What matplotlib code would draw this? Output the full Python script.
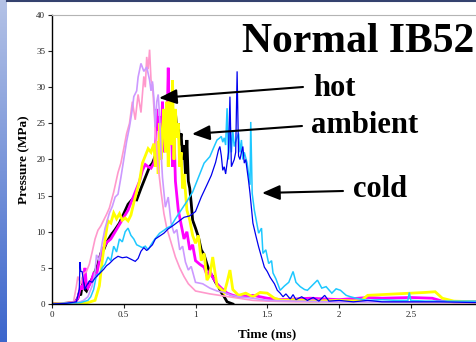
import numpy as np
import matplotlib
matplotlib.use('Agg')
import matplotlib.pyplot as plt
from matplotlib.lines import Line2D

plt.rcParams['font.family'] = ['Liberation Serif', 'DejaVu Serif']

# (time ms, pressure MPa)
pink = [(0, 0), (0.1, 0.1), (0.15, 0.3), (0.17, 2.5), (0.18, 3.8), (0.2, 2.8), (0.22, 4.2),
        (0.24, 4.5), (0.26, 5.5), (0.28, 7.2), (0.3, 9), (0.32, 10.2), (0.34, 10.8), (0.36, 11.6),
        (0.38, 12.4), (0.4, 13.3), (0.43, 15.5), (0.46, 18.2), (0.48, 19.5), (0.5, 21.5),
        (0.52, 23.6), (0.54, 25), (0.56, 28), (0.58, 25.5), (0.6, 29), (0.62, 26.5), (0.64, 31.5),
        (0.65, 30), (0.66, 34.2), (0.67, 32.5), (0.68, 35.2), (0.69, 31), (0.7, 30.4), (0.72, 24),
        (0.74, 19), (0.76, 15.5), (0.78, 12.5), (0.8, 10.5), (0.83, 8.5), (0.86, 6.5), (0.89, 5),
        (0.92, 3.8), (0.95, 2.8), (1.0, 1.8), (1.1, 1.4), (1.2, 1.1), (1.3, 0.8), (1.4, 0.5),
        (1.5, 0.4), (1.7, 0.3), (2.0, 0.3), (2.3, 0.3), (2.6, 0.2), (2.95, 0.2)]

lavender = [(0, 0), (0.1, 0.1), (0.18, 0.2), (0.22, 0.5), (0.25, 1.0), (0.28, 2.5), (0.3, 4.5),
            (0.31, 6.8), (0.33, 6.0), (0.35, 8.5), (0.37, 10.5), (0.4, 12.6), (0.42, 13.5),
            (0.44, 14.8), (0.46, 15.2), (0.48, 17.5), (0.5, 20), (0.52, 22.5), (0.54, 24.5),
            (0.56, 27), (0.57, 28.7), (0.59, 29.5), (0.6, 31.4), (0.62, 33.3), (0.64, 32.2),
            (0.66, 32.8), (0.68, 31.0), (0.69, 29.5), (0.7, 30.8), (0.71, 28.5), (0.72, 24.5),
            (0.73, 28), (0.74, 29), (0.75, 26), (0.76, 21), (0.77, 17.5), (0.79, 13.4), (0.81, 14.8),
            (0.83, 11.2), (0.85, 9.8), (0.87, 10.3), (0.89, 7.5), (0.91, 8), (0.93, 5.8), (0.95, 4.7),
            (0.97, 5.2), (1.0, 3.0), (1.05, 2.8), (1.1, 2.2), (1.15, 1.8), (1.2, 1.6), (1.25, 1.2),
            (1.3, 1.0), (1.4, 0.8), (1.5, 0.5), (1.7, 0.4), (2.0, 0.3), (2.4, 0.3), (2.95, 0.3)]

magenta = [(0, 0), (0.1, 0.1), (0.16, 0.2), (0.18, 0.8), (0.2, 2.5), (0.21, 2.0), (0.22, 3.5),
           (0.23, 5.0), (0.24, 2.5), (0.25, 2.2), (0.27, 3.0), (0.29, 4.2), (0.31, 4.0), (0.33, 6.0),
           (0.35, 7.5), (0.38, 8.5), (0.41, 9.0), (0.44, 10), (0.47, 11), (0.5, 12), (0.53, 13),
           (0.56, 14.5), (0.59, 16), (0.61, 17), (0.63, 18.5), (0.65, 19.3), (0.67, 19),
           (0.69, 18.8), (0.71, 19.5), (0.72, 20.5), (0.73, 27), (0.74, 24), (0.75, 26), (0.76, 22),
           (0.77, 28), (0.78, 21), (0.79, 25), (0.8, 23), (0.81, 32.7), (0.82, 22), (0.83, 26),
           (0.84, 19), (0.85, 24), (0.86, 17), (0.88, 13), (0.9, 11), (0.92, 9), (0.94, 10),
           (0.96, 7.5), (0.98, 8.2), (1.0, 6), (1.03, 5.5), (1.06, 5.1), (1.08, 4), (1.1, 4.6),
           (1.12, 3.7), (1.15, 2.8), (1.18, 2.2), (1.22, 1.5), (1.26, 1.2), (1.3, 1.0), (1.4, 1.2),
           (1.5, 0.8), (1.6, 0.6), (1.8, 0.8), (2.0, 0.6), (2.2, 0.9), (2.3, 0.8), (2.5, 0.9),
           (2.65, 0.8), (2.72, 0.4), (2.8, 0.3), (2.95, 0.3)]

yellow = [(0, 0), (0.1, 0.1), (0.2, 0.1), (0.25, 0.2), (0.3, 0.5), (0.33, 2.5), (0.35, 6),
          (0.37, 9), (0.39, 11.5), (0.41, 11.2), (0.43, 12.6), (0.45, 11.8), (0.47, 12.5),
          (0.49, 11.6), (0.51, 11.9), (0.53, 11.5), (0.55, 12.3), (0.57, 14), (0.59, 15.5),
          (0.61, 17), (0.63, 19.5), (0.65, 20.5), (0.67, 21.5), (0.69, 21), (0.71, 22.2),
          (0.72, 19), (0.73, 22.5), (0.74, 18), (0.75, 25), (0.76, 20), (0.77, 24), (0.78, 27),
          (0.79, 21), (0.8, 28), (0.81, 19), (0.82, 29), (0.83, 22), (0.84, 31), (0.85, 20),
          (0.86, 27), (0.87, 23), (0.88, 25), (0.89, 19), (0.9, 21), (0.91, 16), (0.92, 18),
          (0.94, 13), (0.96, 11.6), (0.98, 9.5), (1.0, 8.4), (1.02, 9.5), (1.04, 6), (1.06, 7),
          (1.08, 3.3), (1.1, 4), (1.12, 6.5), (1.15, 2.5), (1.18, 2), (1.2, 1.5), (1.22, 3),
          (1.24, 4.7), (1.26, 2), (1.3, 1.2), (1.35, 1.5), (1.4, 1), (1.45, 1.6), (1.5, 1.5),
          (1.55, 0.8), (1.6, 0.5), (1.7, 0.6), (1.8, 0.4), (2.0, 0.5), (2.15, 0.4), (2.2, 1.2),
          (2.3, 1.3), (2.4, 1.4), (2.5, 1.5), (2.6, 1.6), (2.67, 1.7), (2.72, 0.8), (2.8, 0.4),
          (2.95, 0.3)]

black = [(0, 0), (0.1, 0.1), (0.16, 0.2), (0.18, 0.8), (0.19, 1.5), (0.2, 1.2), (0.21, 2.5),
         (0.22, 4.0), (0.23, 2.0), (0.24, 1.8), (0.26, 2.8), (0.28, 3.5), (0.3, 4.5), (0.32, 5.5),
         (0.34, 7.0), (0.36, 7.5), (0.38, 8.5), (0.41, 9.5), (0.44, 10.3), (0.47, 11.2),
         (0.5, 12.5), (0.53, 13.8), (0.56, 14.5), (0.59, 14.4), (0.62, 16), (0.65, 17.5),
         (0.68, 19), (0.7, 19.5), (0.72, 20.5), (0.74, 22), (0.76, 21), (0.78, 24), (0.8, 22),
         (0.82, 25), (0.84, 23), (0.86, 26.5), (0.87, 24), (0.88, 25), (0.89, 22), (0.9, 23.6),
         (0.91, 20), (0.92, 22), (0.93, 18), (0.94, 22.7), (0.95, 17), (0.96, 16), (0.97, 14),
         (0.98, 11.6), (1.0, 10.5), (1.02, 9.3), (1.04, 7.5), (1.06, 6.8), (1.08, 5.5),
         (1.1, 4.3), (1.12, 3.8), (1.14, 3.0), (1.16, 2.4), (1.18, 1.6), (1.2, 1.0), (1.22, 0.3),
         (1.26, 0.0)]

cyan = [(0, 0), (0.1, 0.1), (0.2, 0.2), (0.25, 0.5), (0.27, 1), (0.29, 2), (0.31, 4), (0.33, 4.2),
        (0.35, 5), (0.37, 5.5), (0.39, 6.5), (0.41, 6), (0.43, 8), (0.45, 7.2), (0.47, 9),
        (0.49, 8.6), (0.51, 10), (0.53, 10.5), (0.55, 9.5), (0.57, 9), (0.59, 8.2), (0.61, 8),
        (0.63, 7.8), (0.65, 8), (0.67, 7.5), (0.69, 8.2), (0.71, 8.8), (0.73, 9.3), (0.75, 9.8),
        (0.78, 10.2), (0.8, 10.5), (0.83, 10.8), (0.86, 11.8), (0.9, 13), (0.94, 14.2),
        (0.98, 15.5), (1.02, 17.5), (1.06, 19.5), (1.1, 20.4), (1.13, 21.8), (1.15, 22.7),
        (1.17, 23.0), (1.18, 23.2), (1.19, 22.4), (1.2, 23), (1.21, 22), (1.22, 27.1), (1.23, 20),
        (1.24, 25.5), (1.25, 21), (1.26, 24), (1.27, 21.8), (1.28, 22.5), (1.3, 23.6), (1.31, 21),
        (1.32, 22.7), (1.33, 20), (1.34, 21), (1.36, 19.5), (1.37, 18), (1.38, 16.5),
        (1.385, 25.2), (1.395, 15.3), (1.41, 13), (1.44, 9.8), (1.46, 10.5), (1.47, 7),
        (1.49, 7.5), (1.51, 5.6), (1.53, 6), (1.54, 4.3), (1.56, 3.5), (1.59, 1.9), (1.62, 2.5),
        (1.65, 3.0), (1.68, 4.5), (1.7, 3), (1.73, 2.4), (1.76, 2.0), (1.78, 1.9), (1.81, 2.5),
        (1.85, 3.3), (1.88, 2.2), (1.91, 2.4), (1.95, 1.5), (1.98, 2.1), (2.01, 1.9), (2.05, 1.2),
        (2.08, 1.0), (2.12, 0.8), (2.2, 0.5), (2.3, 0.6), (2.4, 0.5), (2.48, 0.5), (2.49, 1.6),
        (2.5, 0.5), (2.6, 0.4), (2.8, 0.4), (2.95, 0.4)]

blue = [(0, 0), (0.1, 0.1), (0.17, 0.3), (0.19, 2), (0.195, 5.8), (0.2, 4.5), (0.21, 4.5),
        (0.22, 3), (0.23, 2), (0.24, 2.5), (0.26, 3.2), (0.28, 3.0), (0.3, 3.6), (0.32, 4),
        (0.34, 4.4), (0.36, 4.8), (0.38, 5.3), (0.4, 5.6), (0.43, 6.2), (0.46, 6.6), (0.49, 6.4),
        (0.52, 6.5), (0.55, 6.2), (0.58, 5.9), (0.6, 6.3), (0.62, 7.3), (0.64, 7.8), (0.66, 7.4),
        (0.68, 7.8), (0.7, 8.2), (0.72, 9.0), (0.75, 9.4), (0.78, 9.8), (0.81, 10.4), (0.84, 10.8),
        (0.88, 11.4), (0.92, 12), (0.96, 12.2), (1.0, 12.8), (1.04, 14.8), (1.08, 16.5),
        (1.11, 17.8), (1.14, 19.6), (1.16, 21.3), (1.17, 21.8), (1.18, 20.5), (1.19, 18.5),
        (1.2, 19), (1.21, 18), (1.22, 19.5), (1.23, 21), (1.24, 28.7), (1.25, 19), (1.26, 19.5),
        (1.27, 20), (1.28, 21), (1.29, 32.2), (1.3, 20.5), (1.31, 20), (1.32, 21), (1.33, 21.8),
        (1.34, 19.5), (1.35, 20), (1.36, 18.5), (1.37, 17), (1.38, 15.3), (1.4, 11.2), (1.42, 9.5),
        (1.44, 7.9), (1.46, 6.5), (1.48, 5.1), (1.5, 4.5), (1.52, 3.7), (1.55, 2.8), (1.57, 1.9),
        (1.59, 1.5), (1.61, 1.0), (1.63, 1.4), (1.66, 0.7), (1.68, 1.3), (1.7, 0.6), (1.74, 1.0),
        (1.78, 0.5), (1.82, 0.9), (1.86, 0.4), (1.9, 1.2), (1.93, 0.4), (2.0, 0.5), (2.1, 0.3),
        (2.2, 0.5), (2.3, 0.3), (2.5, 0.3), (2.7, 0.3), (2.95, 0.2)]

xticks = [0, 0.5, 1, 1.5, 2, 2.5]
xtick_labels = ['0', '0.5', '1', '1.5', '2', '2.5']
yticks = [0, 5, 10, 15, 20, 25, 30, 35, 40]

W, H = 476, 342
fig = plt.figure(figsize=(W / 100, H / 100), dpi=100)
fig.patch.set_facecolor('white')

# blue slide strip on the left
strip = fig.add_axes([0, 0, 7 / W, 1])
grad = np.linspace(0, 1, 256).reshape(-1, 1)
strip.imshow(grad, aspect='auto', cmap=matplotlib.colors.LinearSegmentedColormap.from_list(
    'strip', ['#b4c2e6', '#3c66cc']))
strip.axis('off')
fig.add_artist(Line2D([7 / W, 1], [1 - 1 / H, 1 - 1 / H], color='#34426e', lw=1.5))

ax = fig.add_axes([52 / W, 38 / H, 430.5 / W, 289 / H])
series = [(black, 'black', 2.0), (magenta, '#ff00ff', 2.0), (yellow, '#ffff00', 2.0),
          (pink, '#ff99cc', 1.2), (lavender, '#cc99ff', 1.2),
          (cyan, '#1ec8ff', 1.1), (blue, '#0000ee', 0.9)]
for data, col, lw in series:
    t, p = np.array(data).T
    ax.plot(t, p, color=col, lw=lw, solid_joinstyle='miter')

ax.set_xlim(0, 3)
ax.set_ylim(0, 40)
ax.set_xticks(xticks)
ax.set_xticklabels(xtick_labels)
ax.set_yticks(yticks)
ax.tick_params(direction='out', length=3, width=0.8, pad=2, labelsize=6.5, colors='#222222')
ax.spines['right'].set_visible(False)
ax.spines['top'].set_color('#b4b4b4')
ax.spines['left'].set_linewidth(1.0)
ax.spines['bottom'].set_linewidth(1.0)

fig.text(24 / W, 1 - 160 / H, 'Pressure (MPa)', rotation=90, ha='center', va='center',
         fontsize=9.5, fontweight='bold')
fig.text(267 / W, 1 - 334 / H, 'Time (ms)', ha='center', va='center',
         fontsize=9.5, fontweight='bold')
fig.text(242 / W, 1 - 52 / H, 'Normal IB52', ha='left', va='baseline',
         fontsize=30, fontweight='bold')

labels = [('hot', 313, 96, (303, 87), (159, 98)),
          ('ambient', 311, 133, (302, 126), (192, 134)),
          ('cold', 353, 197, (343, 191), (262, 193))]
for txt, lx, ly, tail, tip in labels:
    fig.text(lx / W, 1 - ly / H, txt, ha='left', va='baseline', fontsize=22, fontweight='bold')
    ax.annotate('', xy=(tip[0], H - tip[1]), xytext=(tail[0], H - tail[1]),
                xycoords='figure pixels', textcoords='figure pixels',
                arrowprops=dict(arrowstyle='-|>,head_length=0.6,head_width=0.25',
                                mutation_scale=18, lw=1.5, color='black',
                                shrinkA=0, shrinkB=0))

fig.savefig('out.png', dpi=100)
